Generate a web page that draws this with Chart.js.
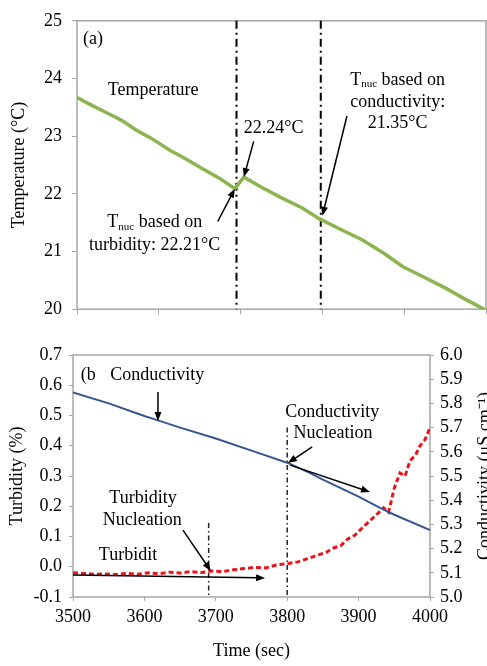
<!DOCTYPE html>
<html>
<head>
<meta charset="utf-8">
<script src="https://cdn.jsdelivr.net/npm/chart.js@4.4.1/dist/chart.umd.min.js"></script>
<style>
  html, body { margin: 0; padding: 0; background: #fff; }
  #wrap { position: relative; width: 487px; height: 666px; overflow: hidden; }
  canvas { position: absolute; left: 0; }
  #tempChart { top: 0; }
  #turbChart { top: 330px; }
</style>
</head>
<body>
<div id="wrap">
  <canvas id="tempChart" width="487" height="330"></canvas>
  <canvas id="turbChart" width="487" height="336"></canvas>
</div>
<script>
// (a) temperature trace - x axis is unlabelled in the figure, so tick units 0..5
const tempX = [0, 0.2, 0.4, 0.55, 0.73, 0.9, 1.13, 1.3, 1.54, 1.75, 1.93, 2.04, 2.25, 2.5, 2.75, 2.96, 3.2, 3.49, 3.75, 3.98, 4.25, 4.5, 4.75, 5];
const tempY = [23.67, 23.52, 23.38, 23.27, 23.10, 22.97, 22.76, 22.63, 22.43, 22.26, 22.09, 22.29, 22.12, 21.93, 21.76, 21.57, 21.40, 21.20, 20.97, 20.74, 20.55, 20.37, 20.17, 19.98];
const tempNuc = [1.95, 2.98];

// (b) conductivity and turbidity vs time
const condTime = [3500, 3550, 3600, 3618, 3650, 3700, 3750, 3800, 3830, 3850, 3900, 3930, 3950, 4000];
const condVal = [5.845, 5.80, 5.748, 5.731, 5.70, 5.655, 5.605, 5.555, 5.515, 5.485, 5.415, 5.368, 5.34, 5.277];
const turbTime = [3500, 3515, 3530, 3545, 3560, 3575, 3590, 3605, 3620, 3635, 3650, 3665, 3680, 3695, 3710, 3725, 3740, 3755, 3770, 3785, 3800, 3815, 3830, 3845, 3855, 3865, 3875, 3885, 3895, 3905, 3915, 3925, 3935, 3942, 3950, 3958, 3965, 3972, 3980, 3986, 3993, 4000];
const turbVal = [-0.020, -0.022, -0.025, -0.024, -0.026, -0.022, -0.025, -0.020, -0.023, -0.018, -0.021, -0.016, -0.019, -0.014, -0.016, -0.010, -0.006, -0.002, -0.004, 0.006, 0.010, 0.016, 0.028, 0.040, 0.048, 0.062, 0.070, 0.092, 0.105, 0.128, 0.150, 0.172, 0.195, 0.180, 0.260, 0.310, 0.300, 0.350, 0.370, 0.400, 0.420, 0.460];
const nucTimes = [3690, 3800];
const nucTops = [0.145, 0.46];

const FONT = '"Liberation Serif", "Times New Roman", serif';
const GRAY = '#a6a6a6';

function arrow(ctx, x1, y1, x2, y2) {
    const a = Math.atan2(y2 - y1, x2 - x1);
    const len = 9, half = 3.5;
    ctx.save();
    ctx.strokeStyle = '#000';
    ctx.fillStyle = '#000';
    ctx.lineWidth = 1.5;
    ctx.setLineDash([]);
    ctx.beginPath();
    ctx.moveTo(x1, y1);
    ctx.lineTo(x2 - Math.cos(a) * len * 0.8, y2 - Math.sin(a) * len * 0.8);
    ctx.stroke();
    ctx.beginPath();
    ctx.moveTo(x2, y2);
    ctx.lineTo(x2 - len * Math.cos(a) + half * Math.sin(a), y2 - len * Math.sin(a) - half * Math.cos(a));
    ctx.lineTo(x2 - len * Math.cos(a) - half * Math.sin(a), y2 - len * Math.sin(a) + half * Math.cos(a));
    ctx.closePath();
    ctx.fill();
    ctx.restore();
}

function label(ctx, str, x, y, align) {
    ctx.font = `18px ${FONT}`;
    ctx.textAlign = align || 'center';
    ctx.textBaseline = 'middle';
    ctx.fillStyle = '#000';
    ctx.fillText(str, x, y);
}

// "T" with subscript "nuc", then the rest of the line
function tnuc(ctx, cx, cy, rest) {
    ctx.textBaseline = 'middle';
    ctx.fillStyle = '#000';
    ctx.font = `18px ${FONT}`;
    const wT = ctx.measureText('T').width, wR = ctx.measureText(rest).width;
    ctx.font = `11px ${FONT}`;
    const wS = ctx.measureText('nuc').width;
    let x = cx - (wT + wS + wR) / 2;
    ctx.textAlign = 'left';
    ctx.font = `18px ${FONT}`;
    ctx.fillText('T', x, cy);
    ctx.font = `11px ${FONT}`;
    ctx.fillText('nuc', x + wT, cy + 4);
    ctx.font = `18px ${FONT}`;
    ctx.fillText(rest, x + wT + wS, cy);
}

function frame(ctx, a) {
    ctx.save();
    ctx.strokeStyle = GRAY;
    ctx.lineWidth = 1.5;
    ctx.strokeRect(a.left, a.top, a.right - a.left, a.bottom - a.top);
    ctx.restore();
}

const tickFont = { family: FONT, size: 18 };
const fmt1 = v => (Math.abs(v) < 1e-9 ? 0 : v).toFixed(1);

const tempDecor = {
    id: 'tempDecor',
    beforeDatasetsDraw(chart) {
        const { ctx, chartArea: a, scales: { x } } = chart;
        frame(ctx, a);
        ctx.save();
        ctx.strokeStyle = '#000';
        ctx.lineWidth = 2;
        ctx.setLineDash([8, 4, 2, 4]);
        tempNuc.forEach(v => {
            const px = x.getPixelForValue(v);
            ctx.beginPath();
            ctx.moveTo(px, a.top);
            ctx.lineTo(px, a.bottom);
            ctx.stroke();
        });
        ctx.restore();
    },
    afterDatasetsDraw(chart) {
        const { ctx, scales: { x, y } } = chart;
        const X = v => x.getPixelForValue(v), Y = v => y.getPixelForValue(v);
        ctx.save();
        label(ctx, '(a)', X(0.073), Y(24.68), 'left');
        label(ctx, 'Temperature', X(0.93), Y(23.79));
        label(ctx, '22.24°C', X(2.04), Y(23.13), 'left');
        tnuc(ctx, X(3.92), Y(23.97), ' based on');
        label(ctx, 'conductivity:', X(3.92), Y(23.59));
        label(ctx, '21.35°C', X(3.92), Y(23.22));
        tnuc(ctx, X(0.95), Y(21.50), ' based on');
        label(ctx, 'turbidity: 22.21°C', X(0.95), Y(21.11));
        arrow(ctx, X(1.72), Y(21.52), X(1.93), Y(22.09));
        arrow(ctx, X(2.16), Y(22.91), X(2.04), Y(22.29));
        arrow(ctx, X(3.30), Y(23.35), X(3.00), Y(21.62));
        ctx.restore();
    }
};

new Chart(document.getElementById('tempChart'), {
    type: 'line',
    data: {
        datasets: [{
            label: 'Temperature',
            data: tempX.map((v, i) => ({ x: v, y: tempY[i] })),
            borderColor: '#8db54f',
            borderWidth: 3.5,
            pointRadius: 0,
            tension: 0
        }]
    },
    options: {
        responsive: false,
        animation: false,
        devicePixelRatio: 1,
        layout: { padding: { top: 14, right: 1, left: 0, bottom: 0 } },
        plugins: { legend: { display: false }, tooltip: { enabled: false } },
        scales: {
            x: {
                type: 'linear', min: 0, max: 5,
                ticks: { stepSize: 1, display: false },
                grid: { drawOnChartArea: false, color: GRAY, tickLength: 5 },
                border: { display: false },
                afterFit: s => { s.height = 19; }
            },
            y: {
                min: 20, max: 25,
                ticks: { stepSize: 1, font: tickFont, color: '#000', padding: 10 },
                grid: { drawOnChartArea: false, color: GRAY, tickLength: 5 },
                border: { display: false },
                title: { display: true, text: 'Temperature (°C)', font: tickFont, color: '#000', padding: { top: 8, bottom: 0 } },
                afterFit: s => { s.width = 77; }
            }
        }
    },
    plugins: [tempDecor]
});

const turbDecor = {
    id: 'turbDecor',
    beforeDatasetsDraw(chart) {
        const { ctx, chartArea: a, scales: { x, y } } = chart;
        frame(ctx, a);
        ctx.save();
        ctx.strokeStyle = '#222';
        ctx.lineWidth = 1.5;
        ctx.setLineDash([5, 3, 1.5, 3]);
        nucTimes.forEach((t, i) => {
            const px = x.getPixelForValue(t);
            ctx.beginPath();
            ctx.moveTo(px, y.getPixelForValue(nucTops[i]));
            ctx.lineTo(px, a.bottom);
            ctx.stroke();
        });
        ctx.restore();
    },
    afterDatasetsDraw(chart) {
        const { ctx, chartArea: a, scales: { x, y } } = chart;
        const X = v => x.getPixelForValue(v), Y = v => y.getPixelForValue(v);
        ctx.save();
        label(ctx, '(b', X(3511), Y(0.634), 'left');
        label(ctx, 'Conductivity', X(3618), Y(0.634));
        arrow(ctx, X(3619), Y(0.578), X(3619), Y(0.482));
        label(ctx, 'Conductivity', X(3863), Y(0.512));
        label(ctx, 'Nucleation', X(3864), Y(0.442));
        arrow(ctx, X(3835), Y(0.396), X(3801), Y(0.343));
        arrow(ctx, X(3804), Y(0.336), X(3916), Y(0.247));
        label(ctx, 'Turbidity', X(3598), Y(0.227));
        label(ctx, 'Nucleation', X(3597), Y(0.155));
        arrow(ctx, X(3654), Y(0.121), X(3693), Y(-0.014));
        label(ctx, 'Turbidit', X(3577), Y(0.039));
        arrow(ctx, X(3500), Y(-0.027), X(3769), Y(-0.037));
        // right axis title reads bottom-to-top and is cut by the page edge
        ctx.translate(485, (a.top + a.bottom) / 2);
        ctx.rotate(-Math.PI / 2);
        label(ctx, 'Conductivity (μS cm⁻¹)', 0, 0);
        ctx.restore();
    }
};

new Chart(document.getElementById('turbChart'), {
    type: 'line',
    data: {
        datasets: [{
            label: 'Conductivity',
            data: condTime.map((t, i) => ({ x: t, y: condVal[i] })),
            yAxisID: 'y1',
            borderColor: '#34578f',
            borderWidth: 2,
            pointRadius: 0,
            tension: 0
        }, {
            label: 'Turbidity',
            data: turbTime.map((t, i) => ({ x: t, y: turbVal[i] })),
            yAxisID: 'y',
            borderColor: '#e8141a',
            borderWidth: 3,
            borderDash: [5, 3],
            pointRadius: 0,
            tension: 0
        }]
    },
    options: {
        responsive: false,
        animation: false,
        devicePixelRatio: 1,
        layout: { padding: { top: 25, right: 0, left: 0, bottom: 0 } },
        plugins: { legend: { display: false }, tooltip: { enabled: false } },
        scales: {
            x: {
                type: 'linear', min: 3500, max: 4000,
                ticks: { stepSize: 100, font: tickFont, color: '#000', padding: 5, autoSkip: false, maxRotation: 0, callback: v => String(v) },
                grid: { drawOnChartArea: false, color: GRAY, tickLength: 4 },
                border: { display: false },
                title: { display: true, text: 'Time (sec)', font: tickFont, color: '#000', padding: { top: 0, bottom: 4 } },
                afterFit: s => { s.height = 69; }
            },
            y: {
                position: 'left', min: -0.1, max: 0.7,
                ticks: { stepSize: 0.1, font: tickFont, color: '#000', padding: 7, autoSkip: false, callback: fmt1 },
                grid: { drawOnChartArea: false, color: GRAY, tickLength: 4 },
                border: { display: false },
                title: { display: true, text: 'Turbidity (%)', font: tickFont, color: '#000', padding: { top: 6, bottom: 0 } },
                afterFit: s => { s.width = 73; }
            },
            y1: {
                position: 'right', min: 5.0, max: 6.0,
                ticks: { stepSize: 0.1, font: tickFont, color: '#000', padding: 6, autoSkip: false, callback: fmt1 },
                grid: { drawOnChartArea: false, color: GRAY, tickLength: 4 },
                border: { display: false },
                afterFit: s => { s.width = 57; }
            }
        }
    },
    plugins: [turbDecor]
});
</script>
</body>
</html>
